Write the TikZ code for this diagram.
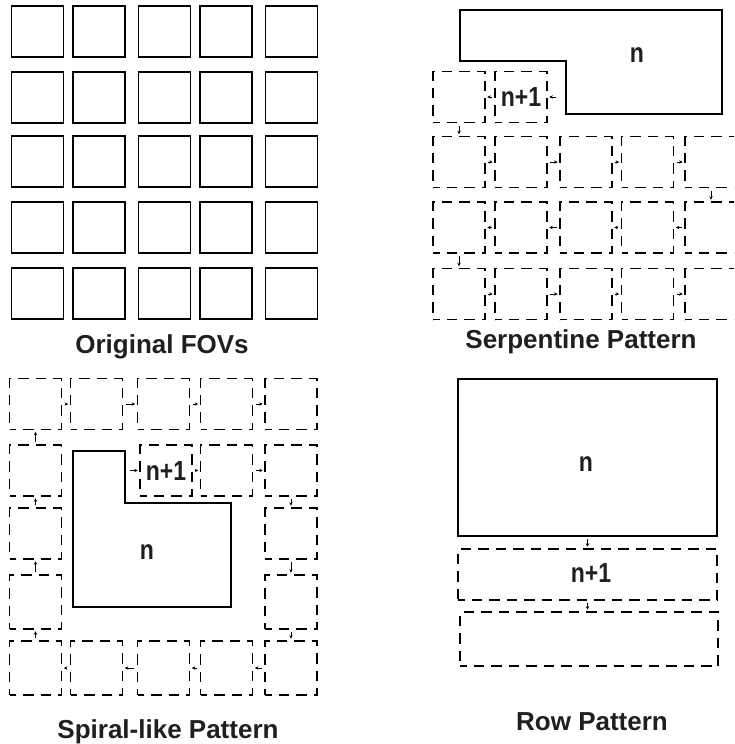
\documentclass[tikz,border=0pt]{standalone}
\usepackage{fontspec}
\setmainfont{Liberation Sans}
\usetikzlibrary{arrows.meta}
\tikzset{
  fov/.style={draw, line width=1.8pt, minimum width=52pt, minimum height=51pt, inner sep=0pt},
  tile/.style={draw, line width=1.6pt, dash pattern=on 10.5pt off 7pt, dash phase=4pt, minimum width=52pt, minimum height=51pt, inner sep=0pt},
  solidline/.style={line width=1.8pt, line join=miter},
  arr/.style={-{Stealth[length=3.5pt,width=3.5pt]}, line width=0.8pt, shorten >=1.5pt, shorten <=2.5pt},
  captext/.style={font=\fontsize{26}{30}\selectfont\bfseries, text=black!88, inner sep=0pt, anchor=base},
  lbl/.style={font=\fontsize{23}{26}\selectfont\bfseries, text=black!88, inner sep=0pt},
}
\begin{document}
\begin{tikzpicture}[x=1pt,y=-1pt]
\clip (0,0) rectangle (734,744);
\fill[white] (0,0) rectangle (734,744);

% ---------------- Original FOVs ----------------
\foreach \r/\y in {0/31.5,1/97.5,2/161.5,3/227.5,4/293.5}{
  \foreach \c/\x in {0/37.5,1/99,2/164.5,3/226,4/291.5}{
    \node[fov] (o\r\c) at (\x,\y) {};
  }
}
\node[captext] (capO) at (162,353) {Original FOVs};

% ---------------- Serpentine Pattern ----------------
\draw[solidline] (460,10) -- (722,10) -- (722,114) -- (566,114) -- (566,61) -- (460,61) -- cycle;
\node[lbl] (sn) at (637,55) {\scalebox{1}[1.2]{n}};
\coordinate (snl) at (558,97);
\node[tile] (s00) at (459,97) {};
\node[tile, lbl] (s01) at (521,97) {\scalebox{1}[1.2]{n+1}};
\foreach \r/\y in {1/162,2/227.5,3/294}{
  \foreach \c/\x in {0/459,1/521,2/586,3/647.5,4/711}{
    \node[tile] (s\r\c) at (\x,\y) {};
  }
}
\draw[arr] (snl) -- (s01);
\draw[arr] (s01) -- (s00);
\draw[arr] (s00) -- (s10);
\draw[arr] (s10) -- (s11);
\draw[arr] (s11) -- (s12);
\draw[arr] (s12) -- (s13);
\draw[arr] (s13) -- (s14);
\draw[arr] (s14) -- (s24);
\draw[arr] (s24) -- (s23);
\draw[arr] (s23) -- (s22);
\draw[arr] (s22) -- (s21);
\draw[arr] (s21) -- (s20);
\draw[arr] (s20) -- (s30);
\draw[arr] (s30) -- (s31);
\draw[arr] (s31) -- (s32);
\draw[arr] (s32) -- (s33);
\draw[arr] (s33) -- (s34);
\node[captext] (capS) at (581,348) {Serpentine Pattern};

% ---------------- Spiral-like Pattern ----------------
\foreach \c/\x in {0/35.5,1/96.5,2/163.5,3/226.5,4/291}{
  \node[tile] (p0\c) at (\x,404) {};
  \node[tile, minimum height=54pt] (p4\c) at (\x,668) {};
}
\node[tile] (p10) at (35.5,470.5) {};
\node[tile, lbl] (p12) at (166,470.5) {\scalebox{1}[1.2]{n+1}};
\node[tile] (p13) at (226.5,470.5) {};
\node[tile] (p14) at (291,470.5) {};
\node[tile] (p20) at (35.5,533.5) {};
\node[tile] (p24) at (291,533.5) {};
\node[tile, minimum height=54pt] (p30) at (35.5,602) {};
\node[tile, minimum height=54pt] (p34) at (291,602) {};
\draw[solidline] (73,451) -- (125,451) -- (125,503) -- (231,503) -- (231,607) -- (73,607) -- cycle;
\node[lbl] (pn) at (147,552) {\scalebox{1}[1.2]{n}};
\coordinate (pnr) at (127,470.5);
\draw[arr] (pnr) -- (p12);
\draw[arr] (p12) -- (p13);
\draw[arr] (p13) -- (p14);
\draw[arr] (p14) -- (p24);
\draw[arr] (p24) -- (p34);
\draw[arr] (p34) -- (p44);
\draw[arr] (p44) -- (p43);
\draw[arr] (p43) -- (p42);
\draw[arr] (p42) -- (p41);
\draw[arr] (p41) -- (p40);
\draw[arr] (p40) -- (p30);
\draw[arr] (p30) -- (p20);
\draw[arr] (p20) -- (p10);
\draw[arr] (p10) -- (p00);
\draw[arr] (p00) -- (p01);
\draw[arr] (p01) -- (p02);
\draw[arr] (p02) -- (p03);
\draw[arr] (p03) -- (p04);
\node[captext] (capP) at (168,738) {Spiral-like Pattern};

% ---------------- Row Pattern ----------------
\node[fov, minimum width=259pt, minimum height=157pt] (rn) at (587.5,457.5) {};
\node[lbl] (rnl) at (586,464) {\scalebox{1}[1.2]{n}};
\node[tile, minimum width=259pt, minimum height=51pt] (r1) at (587.5,574.5) {};
\node[lbl] (r1l) at (591,573) {\scalebox{1}[1.2]{n+1}};
\node[tile, minimum width=258pt, minimum height=54pt] (r2) at (589,639) {};
\draw[arr] (rn.south) -- (r1.north);
\draw[arr] (r1.south) -- (r1.south |- r2.north);
\node[captext] (capR) at (592,730) {Row Pattern};
\end{tikzpicture}
\end{document}
